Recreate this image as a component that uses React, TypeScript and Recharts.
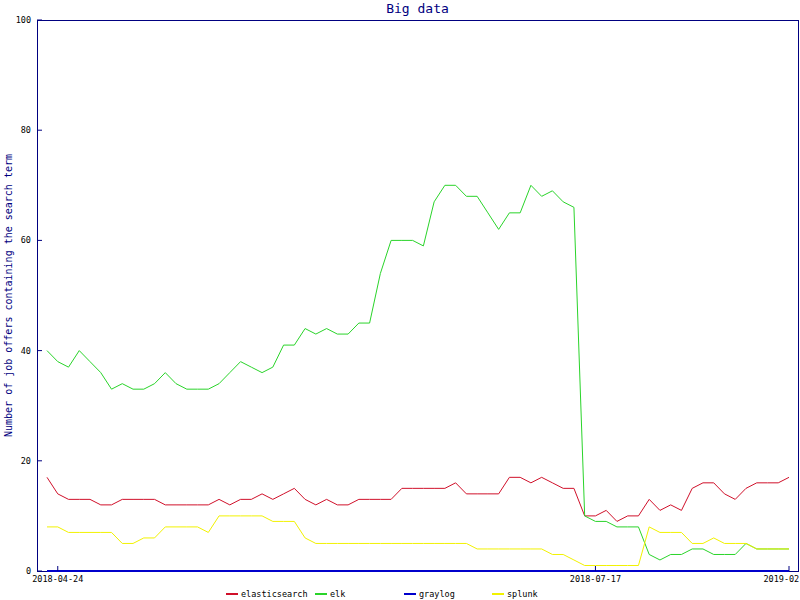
import { LineChart, Line, XAxis, YAxis } from 'recharts';

// weekly counts
const elasticsearch = [
  17, 14, 13, 13, 13, 12, 12, 13, 13, 13, 13, 12, 12, 12, 12, 12, 13, 12, 13, 13,
  14, 13, 14, 15, 13, 12, 13, 12, 12, 13, 13, 13, 13, 15, 15, 15, 15, 15, 16, 14,
  14, 14, 14, 17, 17, 16, 17, 16, 15, 15, 10, 10, 11, 9, 10, 10, 13, 11, 12, 11,
  15, 16, 16, 14, 13, 15, 16, 16, 16, 17,
];
const elk = [
  40, 38, 37, 40, 38, 36, 33, 34, 33, 33, 34, 36, 34, 33, 33, 33, 34, 36, 38, 37,
  36, 37, 41, 41, 44, 43, 44, 43, 43, 45, 45, 54, 60, 60, 60, 59, 67, 70, 70, 68,
  68, 65, 62, 65, 65, 70, 68, 69, 67, 66, 10, 9, 9, 8, 8, 8, 3, 2, 3, 3,
  4, 4, 3, 3, 3, 5, 4, 4, 4, 4,
];
const graylog = [
  0, 0, 0, 0, 0, 0, 0, 0, 0, 0, 0, 0, 0, 0, 0, 0, 0, 0, 0, 0,
  0, 0, 0, 0, 0, 0, 0, 0, 0, 0, 0, 0, 0, 0, 0, 0, 0, 0, 0, 0,
  0, 0, 0, 0, 0, 0, 0, 0, 0, 0, 0, 0, 0, 0, 0, 0, 0, 0, 0, 0,
  0, 0, 0, 0, 0, 0, 0, 0, 0, 0,
];
const splunk = [
  8, 8, 7, 7, 7, 7, 7, 5, 5, 6, 6, 8, 8, 8, 8, 7, 10, 10, 10, 10,
  10, 9, 9, 9, 6, 5, 5, 5, 5, 5, 5, 5, 5, 5, 5, 5, 5, 5, 5, 5,
  4, 4, 4, 4, 4, 4, 4, 3, 3, 2, 1, 1, 1, 1, 1, 1, 8, 7, 7, 7,
  5, 5, 6, 5, 5, 5, 4, 4, 4, 4,
];

// only three dates are labelled on the axis
const xTickIndex = [1, 51, 69];
const xTickLabels = ['2018-04-24', '2018-07-17', '2019-02-05'];
const yTicks = [0, 20, 40, 60, 80, 100];

const series = [
  { key: 'elasticsearch', color: '#d0102a', values: elasticsearch, width: 1 },
  { key: 'elk', color: '#2ad42a', values: elk, width: 1 },
  { key: 'graylog', color: '#0000cc', values: graylog, width: 2 },
  { key: 'splunk', color: '#f2f200', values: splunk, width: 1 },
];

const data = elasticsearch.map((_, i) => {
  const row: Record<string, number> = { idx: i };
  series.forEach((s) => (row[s.key] = s.values[i]));
  return row;
});

const NAVY = '#000080';
const FONT = '"DejaVu Sans Mono", "Liberation Mono", monospace';

const XTick = ({ x, y, payload }: any) => {
  const pos = xTickIndex.indexOf(payload.value);
  return (
    <g>
      <line x1={x} x2={x} y1={y - 8} y2={y - 13} stroke={NAVY} />
      <text x={x} y={y} textAnchor="middle" dominantBaseline="central"
        fontSize={8.5} fontFamily={FONT} fill="#000">
        {pos >= 0 ? xTickLabels[pos] : ''}
      </text>
    </g>
  );
};

const YTick = ({ x, y, payload }: any) => (
  <g>
    <line x1={x + 6} x2={x + 11} y1={y} y2={y} stroke={NAVY} />
    <text x={x} y={y} textAnchor="end" dominantBaseline="central"
      fontSize={8.5} fontFamily={FONT} fill="#000">
      {payload.value}
    </text>
  </g>
);

const legendLeft = [226, 315, 404, 492];

export default function App() {
  return (
    <div style={{ position: 'absolute', left: 0, top: 0, width: 800, height: 600,
      overflow: 'hidden', background: '#fff', fontFamily: FONT }}>
      <div style={{ position: 'absolute', left: 37, top: 20, width: 762, height: 552,
        border: `1px solid ${NAVY}`, boxSizing: 'border-box' }} />
      <div style={{ position: 'absolute', left: 37, top: 1, width: 761, textAlign: 'center',
        fontSize: 13, color: NAVY }}>
        Big data
      </div>
      <div style={{ position: 'absolute', left: 0, top: 0 }}>
        <LineChart width={800} height={600} data={data}
          margin={{ top: 20, right: 2, bottom: 0, left: 0 }}>
          <XAxis dataKey="idx" type="category" height={29} ticks={xTickIndex} interval={0}
            padding={{ left: 10, right: 9 }} axisLine={false} tickLine={false}
            tickSize={0} tickMargin={8} tick={<XTick />} />
          <YAxis width={37} domain={[0, 100]} ticks={yTicks} axisLine={false} tickLine={false}
            tickSize={0} tickMargin={6} tick={<YTick />}
            label={{ value: 'Number of job offers containing the search term', angle: -90,
              position: 'insideLeft', offset: 8,
              style: { textAnchor: 'middle', fontSize: 10, fill: NAVY, fontFamily: FONT } }} />
          {series.map((s) => (
            <Line key={s.key} dataKey={s.key} stroke={s.color} strokeWidth={s.width}
              dot={false} activeDot={false} type="linear" isAnimationActive={false} />
          ))}
        </LineChart>
      </div>
      {series.map((s, i) => (
        <div key={s.key} style={{ position: 'absolute', left: legendLeft[i], top: 589,
          display: 'flex', alignItems: 'center', fontSize: 8.5, color: '#000' }}>
          <span style={{ display: 'inline-block', width: 12, height: 2, background: s.color,
            marginRight: 3 }} />
          <span>{s.key}</span>
        </div>
      ))}
    </div>
  );
}
